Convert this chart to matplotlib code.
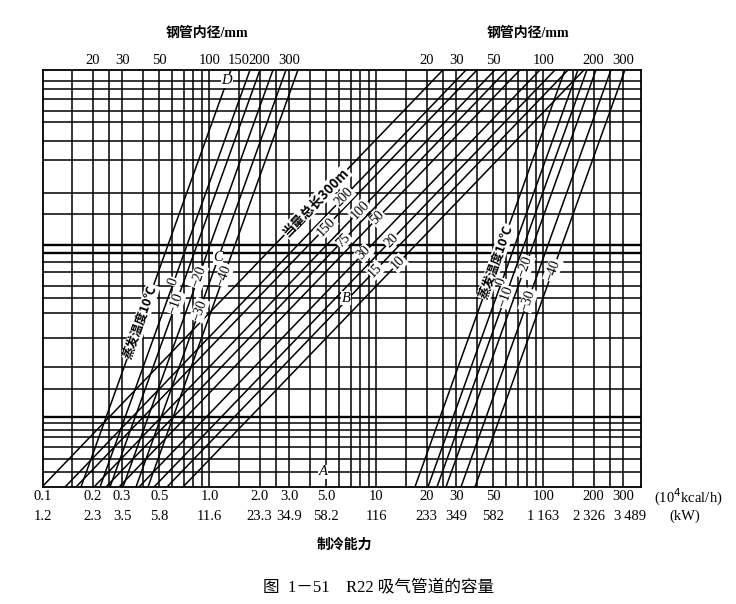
import matplotlib
matplotlib.use("Agg")
import matplotlib.pyplot as plt
import matplotlib.transforms as mtransforms
import numpy as np

SERIF = ['Liberation Serif', 'Noto Sans CJK SC']
CJK = ['Noto Sans CJK SC', 'Liberation Serif']

# Refrigerating capacity scale (10^4 kcal/h) and the matching kW values
cap_ticks = [0.1, 0.2, 0.3, 0.5, 1.0, 2.0, 3.0, 5.0, 10, 20, 30, 50, 100, 200, 300]
cap_labels = ['0.1', '0.2', '0.3', '0.5', '1.0', '2.0', '3.0', '5.0',
              '10', '20', '30', '50', '100', '200', '300']
kw_labels = ['1.2', '2.3', '3.5', '5.8', '11.6', '23.3', '34.9', '58.2',
             '116', '233', '349', '582', '1\u2009163', '2\u2009326', '3\u2009489']

# Steel pipe inner diameter (mm) scales along the top edge
dia_left_pos = [0.2, 0.3, 0.5, 1.0, 1.5, 2.0, 3.0]
dia_left_labels = ['20', '30', '50', '100', '150', '200', '300']
dia_right_pos = [20, 30, 50, 100, 200, 300]
dia_right_labels = ['20', '30', '50', '100', '200', '300']

# Grid
grid_x_mantissa = [1.5, 2, 2.5, 3, 4, 5, 6, 7, 8, 9, 10]
grid_x_decades = [0.1, 1, 10, 100]
grid_y = [97.4, 95.4, 93.0, 90.2, 87.5, 83.0, 78.4, 70.5, 65.5, 58.0, 56.1,
          54.0, 51.6, 48.2, 45.3, 41.7, 35.7, 28.8, 23.5, 16.8, 15.3, 13.7,
          12.0, 9.6, 6.7, 3.6]
grid_y_bold = [58.0, 56.1, 16.8]

# Equivalent total length lines (m): capacity where each meets bottom / top
length_m = [300, 200, 150, 100, 75, 50, 30, 20, 15, 10]
length_cap_bottom = [0.0993, 0.1364, 0.1587, 0.2034, 0.2400, 0.2871, 0.3782, 0.4652, 0.5567, 0.6940]
length_cap_top = [25.0, 34.4, 40.0, 51.2, 60.5, 72.3, 95.3, 117.2, 140.2, 174.8]
length_label_y = [68.3, 69.5, 62.4, 66.4, 59.2, 64.5, 56.1, 59.2, 52.0, 53.7]

# Evaporating temperature lines (deg C)
evap_temp = [10, 0, -10, -20, -30, -40]
left_cap_bottom = [0.1700, 0.2210, 0.2536, 0.3034, 0.3630, 0.4282]
left_cap_top = [1.3445, 1.748, 2.006, 2.400, 2.871, 3.387]
left_label_y = [39.6, 49.2, 44.1, 50.4, 42.4, 50.8]
right_cap_bottom = [17.00, 20.34, 23.03, 26.08, 32.07, 38.89]
right_cap_top = [134.5, 160.9, 182.1, 206.3, 253.6, 307.6]
right_label_y = [54.0, 49.2, 45.6, 52.8, 44.8, 52.0]

# Worked-example reference points
ref_names = ['A', 'B', 'C', 'D']
ref_cap = [4.78, 6.57, 1.124, 1.273]
ref_y = [3.6, 45.3, 55.0, 97.4]

X_MIN, X_MAX = 0.1, 384.0
Y_MIN, Y_MAX = 0.0, 100.0

fig = plt.figure(figsize=(7.36, 6.04), dpi=100)
fig.patch.set_facecolor('white')
ax = fig.add_axes([42.5 / 736, 117 / 604, (641 - 42.5) / 736, 417 / 604])
ax.set_xscale('log')
ax.set_xlim(X_MIN, X_MAX)
ax.set_ylim(Y_MIN, Y_MAX)
ax.set_xticks([])
ax.set_yticks([])
ax.minorticks_off()
for s in ax.spines.values():
    s.set_linewidth(1.3)
    s.set_color('black')

LW = 1.1
for d in grid_x_decades:
    for m in grid_x_mantissa:
        v = d * m
        if X_MIN < v < X_MAX:
            ax.axvline(v, color='black', lw=LW, zorder=1)
for y in grid_y:
    ax.axhline(y, color='black', lw=1.7 if y in grid_y_bold else LW, zorder=1)


def x_on_line(xb, xt, y):
    """Capacity where a straight (log-x) line through bottom/top meets height y."""
    t = (y - Y_MIN) / (Y_MAX - Y_MIN)
    return 10 ** (np.log10(xb) + t * (np.log10(xt) - np.log10(xb)))


def line_angle(xb, xt):
    p0 = ax.transData.transform((xb, Y_MIN))
    p1 = ax.transData.transform((xt, Y_MAX))
    return np.degrees(np.arctan2(p1[1] - p0[1], p1[0] - p0[0]))


label_box = dict(facecolor='white', edgecolor='none', pad=0.6)

# Equivalent length family
for L, xb, xt, ly in zip(length_m, length_cap_bottom, length_cap_top, length_label_y):
    ax.plot([xb, xt], [Y_MIN, Y_MAX], color='black', lw=LW, zorder=2)
    ang = line_angle(xb, xt)
    if L == 300:
        ax.text(x_on_line(xb, xt, ly), ly, '当量总长300m', rotation=ang,
                rotation_mode='anchor', ha='center', va='center',
                fontsize=9.5, family=CJK, fontweight='bold', bbox=label_box, zorder=4)
    else:
        ax.text(x_on_line(xb, xt, ly), ly, str(L), rotation=ang,
                rotation_mode='anchor', ha='center', va='center',
                fontsize=10, family=SERIF, bbox=label_box, zorder=4)

# Evaporating temperature families
for cb, ct, ly_list in ((left_cap_bottom, left_cap_top, left_label_y),
                        (right_cap_bottom, right_cap_top, right_label_y)):
    for T, xb, xt, ly in zip(evap_temp, cb, ct, ly_list):
        ax.plot([xb, xt], [Y_MIN, Y_MAX], color='black', lw=LW, zorder=2)
        ang = line_angle(xb, xt)
        if T == 10:
            txt = '蒸发温度10℃'
            fam, fw, fs = CJK, 'bold', 9
        else:
            txt = '−%d' % (-T) if T < 0 else '0'
            fam, fw, fs = SERIF, 'normal', 10
        ax.text(x_on_line(xb, xt, ly), ly, txt, rotation=ang,
                rotation_mode='anchor', ha='center', va='center',
                fontsize=fs, family=fam, fontweight=fw, bbox=label_box, zorder=4)

# Reference letters
for name, cx, cy in zip(ref_names, ref_cap, ref_y):
    ax.text(cx, cy, name, ha='center', va='center', fontsize=10.5,
            family=SERIF, style='italic', bbox=dict(facecolor='white', edgecolor='none', pad=0.3),
            zorder=5)

# Bottom capacity labels (kW row nudged apart at the crowded right end)
kw_nudge_px = [0] * 12 + [0, -5, 7]
trans = mtransforms.blended_transform_factory(ax.transData, fig.transFigure)
for v, t1, t2, dx in zip(cap_ticks, cap_labels, kw_labels, kw_nudge_px):
    ax.text(v, (604 - 497) / 604, t1, transform=trans, ha='center', va='center',
            fontsize=10.5, family=SERIF, clip_on=False)
    tr2 = trans + mtransforms.ScaledTranslation(dx / 100, 0, fig.dpi_scale_trans)
    ax.text(v, (604 - 516) / 604, t2, transform=tr2, ha='center', va='center',
            fontsize=10.5, family=SERIF, clip_on=False)

# Top diameter labels
for v, t in zip(dia_left_pos, dia_left_labels):
    ax.text(v, (604 - 60) / 604, t, transform=trans, ha='center', va='center',
            fontsize=10.5, family=SERIF, clip_on=False)
for v, t in zip(dia_right_pos, dia_right_labels):
    ax.text(v, (604 - 60) / 604, t, transform=trans, ha='center', va='center',
            fontsize=10.5, family=SERIF, clip_on=False)

fig.text(207 / 736, (604 - 33) / 604, '钢管内径/mm', ha='center', va='center',
         fontsize=10, family=SERIF, fontweight='bold')
fig.text(528 / 736, (604 - 33) / 604, '钢管内径/mm', ha='center', va='center',
         fontsize=10, family=SERIF, fontweight='bold')
fig.text(688 / 736, (604 - 497) / 604, '(10$^4$kcal/h)', ha='center', va='center',
         fontsize=10.5, family=SERIF)
fig.text(685 / 736, (604 - 516) / 604, '(kW)', ha='center', va='center',
         fontsize=10.5, family=SERIF)
fig.text(344 / 736, (604 - 545) / 604, '制冷能力', ha='center', va='center',
         fontsize=10, family=CJK, fontweight='bold')
fig.text(379 / 736, (604 - 587) / 604, '图  1－51    R22 吸气管道的容量', ha='center',
         va='center', fontsize=12, family=SERIF)

fig.savefig('out.png', dpi=100, facecolor='white')
